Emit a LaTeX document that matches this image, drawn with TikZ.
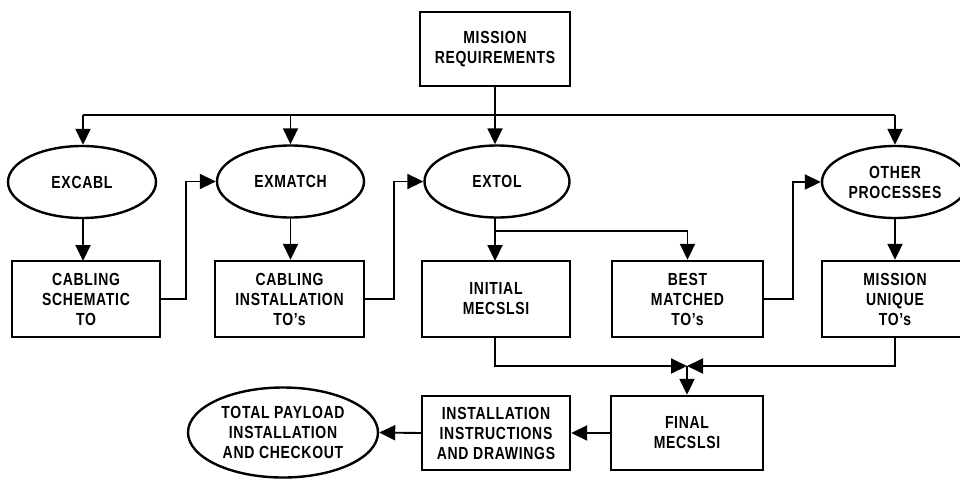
\documentclass[tikz,border=0pt]{standalone}
\usepackage{fontspec}
\setmainfont{Liberation Sans}[FakeStretch=0.8, LetterSpace=4]
\usetikzlibrary{shapes.geometric,arrows.meta}
\begin{document}
\begin{tikzpicture}[x=1pt,y=-1pt,
  txt/.style={font=\bfseries\fontsize{17.5}{20}\selectfont, align=center, inner sep=0pt},
  boxn/.style={txt, draw, line width=2.4pt, rectangle, minimum width=148pt, minimum height=76pt},
  elln/.style={txt, draw, line width=2.4pt, ellipse, minimum width=147pt, minimum height=72pt},
  conn/.style={line width=1.9pt},
  arr/.style={conn, -{Triangle[length=16pt,width=15pt]}}]
\useasboundingbox (0,0) rectangle (960,479);
% nodes
\node[boxn, minimum width=150pt, minimum height=74pt] (mr) at (495,49) {MISSION\\REQUIREMENTS};
\node[elln, minimum width=148pt] (ex1) at (82,182) {EXCABL};
\node[elln] (ex2) at (290.5,181.5) {EXMATCH};
\node[elln, minimum width=145pt] (ex3) at (497,181.5) {EXTOL};
\node[elln, minimum width=146pt] (op) at (895,182) {OTHER\\PROCESSES};
\node[boxn] (cs) at (86,299) {CABLING\\SCHEMATIC\\TO};
\node[boxn, minimum width=149pt] (ci) at (289.5,299) {CABLING\\INSTALLATION\\TO's};
\node[boxn] (init) at (496,299) {INITIAL\\MECSLSI};
\node[boxn, minimum width=151pt] (best) at (687.5,299) {BEST\\MATCHED\\TO's};
\node[boxn, minimum width=146pt] (mu) at (895,299) {MISSION\\UNIQUE\\TO's};
\node[boxn, minimum width=152pt, minimum height=74pt] (fin) at (687,433) {FINAL\\MECSLSI};
\node[boxn, minimum height=74pt] (inst) at (496,433) {INSTALLATION\\INSTRUCTIONS\\AND DRAWINGS};
\node[elln, minimum width=190pt, minimum height=90pt] (tot) at (283,432.5) {TOTAL PAYLOAD\\INSTALLATION\\AND CHECKOUT};
% bus
\coordinate (b) at (495,115);
\draw[conn] (mr.south) -- (b);
\draw[conn] (83,115) coordinate (bl) -- (895,115) coordinate (br);
\draw[arr] (bl) -- (bl |- ex1.north);
\draw[arr] (ex2.north |- b) -- (ex2.north);
\draw[arr] (b) -- (b |- ex3.north);
\draw[arr] (br) -- (op.north);
% column links
\draw[arr] (83,218) -- (83,261);
\draw[arr] (ex2.south) -- (ex2.south |- ci.north);
\draw[arr] (495,217.5) -- (495,261);
\draw[arr] (op.south) -- (mu.north);
\coordinate (t) at (495,231);
\draw[arr] (t) -| (best.north);
% feedback links
\draw[arr] (cs.east) -- ++(25,0) |- (ex2.west);
\draw[arr] (ci.east) -- ++(29,0) |- (ex3.west);
\draw[arr] (best.east) -- ++(29,0) |- (op.west);
% junction
\coordinate (j) at (687,366);
\draw[arr] (495,337) |- (j);
\draw[arr] (mu.south) |- (j);
\draw[arr] (j) -- (fin.north);
\draw[arr] (fin.west) -- (inst.east);
\draw[arr] (inst.west) -- (tot.east);
\end{tikzpicture}
\end{document}
